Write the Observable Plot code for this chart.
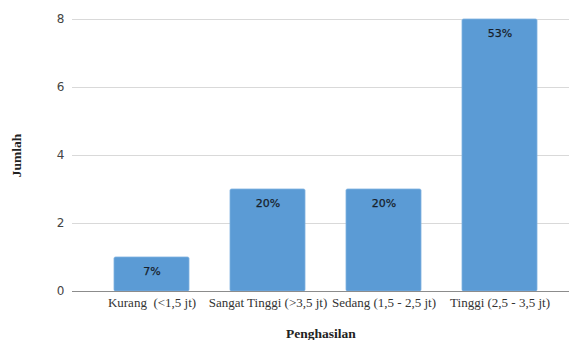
<!DOCTYPE html>
<html>
<head>
<meta charset="utf-8">
<script src="https://cdn.jsdelivr.net/npm/d3@7"></script>
<script src="https://cdn.jsdelivr.net/npm/@observablehq/plot@0.6"></script>
<style>
  html, body { margin: 0; padding: 0; background: #fff; }
  #chart svg { display: block; }
</style>
</head>
<body>
<div id="chart"></div>
<script>
const categories = ["Kurang  (<1,5 jt)", "Sangat Tinggi (>3,5 jt)", "Sedang (1,5 - 2,5 jt)", "Tinggi (2,5 - 3,5 jt)"];
const values = [1, 3, 3, 8];
const percentLabels = ["7%", "20%", "20%", "53%"];
const yTicks = [0, 2, 4, 6, 8];

const data = categories.map((c, i) => ({category: c, value: values[i], label: percentLabels[i]}));

const chart = Plot.plot({
  width: 569,
  height: 340,
  marginLeft: 72,
  marginRight: 0,
  marginTop: 19,
  marginBottom: 49,
  style: {background: "#fff", overflow: "visible"},
  x: {domain: categories, paddingInner: 0.355, paddingOuter: 0.314, align: 0.56},
  y: {domain: [0, 8]},
  marks: [
    Plot.gridY(yTicks, {stroke: "#d9d9d9", strokeOpacity: 1, strokeWidth: 1}),
    Plot.axisY({ticks: yTicks, tickSize: 0, tickPadding: 8,
      fontFamily: "DejaVu Sans", fontSize: 12, color: "#444",
      label: "Jumlah", labelAnchor: "center", labelArrow: "none", labelOffset: 61}),
    Plot.axisX({tickSize: 0, tickPadding: 6, fontFamily: "Liberation Serif", fontSize: 13, color: "#333",
      label: "Penghasilan", labelAnchor: "center", labelArrow: "none", labelOffset: 46}),
    Plot.barY(data, {x: "category", y: "value", fill: "#5b9bd5", stroke: "#7fb1df", strokeWidth: 0.8, rx: 1.5}),
    Plot.ruleY([0], {stroke: "#8c8c8c", strokeWidth: 1.2}),
    Plot.text(data, {x: "category", y: "value", text: "label", dy: 14, fill: "#17202a",
      fontFamily: "DejaVu Sans", fontSize: 11, stroke: "#17202a", strokeWidth: 0.25})
  ]
});

d3.select(chart).selectAll("[aria-label='y-axis label'] text, [aria-label='x-axis label'] text")
  .style("font-family", "Liberation Serif").style("font-weight", "bold").style("font-size", "13.5px").attr("fill", "#222");

document.getElementById("chart").appendChild(chart);
</script>
</body>
</html>
